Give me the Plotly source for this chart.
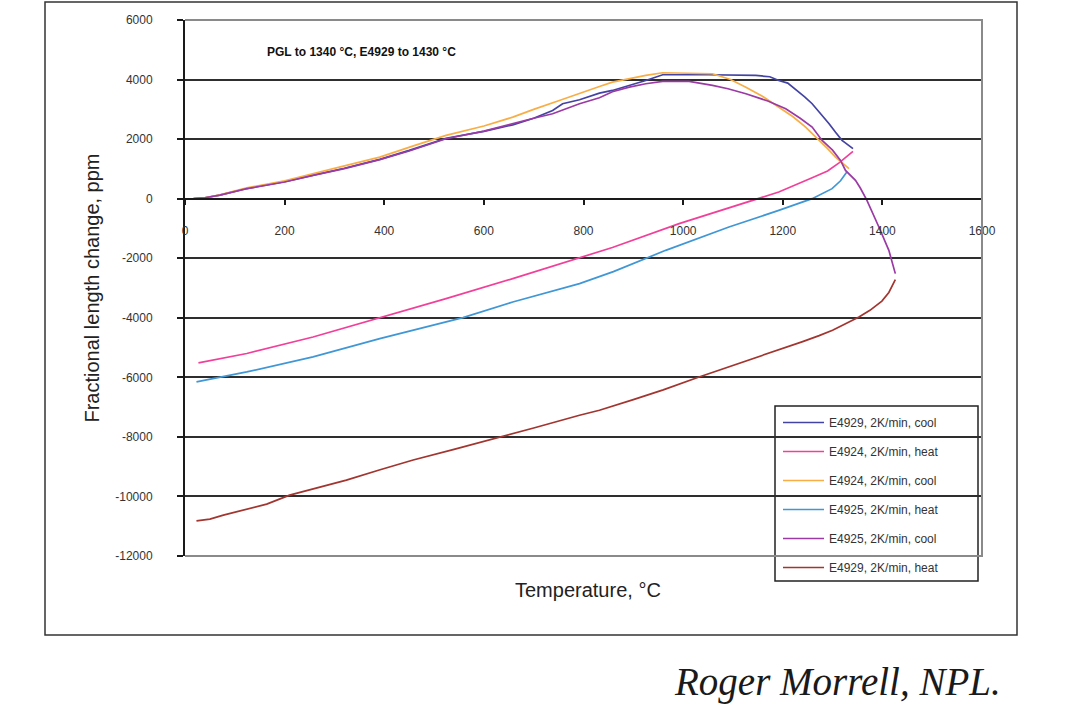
import plotly.graph_objects as go

# Dilatometer runs: temperature (°C) vs fractional length change (ppm)
e4929_cool_t = [1341, 1330, 1319, 1306, 1293, 1276, 1259, 1244, 1229, 1210, 1192, 1174, 1146, 1100,
                1050, 1012, 959, 925, 892, 858, 832, 792, 758, 738, 700, 658, 600, 524, 450, 391,
                320, 257, 200, 124, 70, 40, 17]
e4929_cool_v = [1680, 1830, 1957, 2230, 2517, 2850, 3188, 3420, 3634, 3880, 3970, 4094, 4138, 4161,
                4161, 4161, 4161, 3970, 3800, 3634, 3544, 3322, 3188, 2960, 2700, 2480, 2260, 2030,
                1620, 1320, 1020, 790, 570, 340, 120, 30, 0]

e4924_heat_t = [27, 124, 257, 397, 524, 658, 792, 858, 992, 1080, 1159, 1192, 1259, 1290, 1313, 1341]
e4924_heat_v = [-5516, -5201, -4644, -3973, -3356, -2685, -1980, -1640, -839, -380, 54, 222, 700,
                930, 1200, 1590]

e4924_cool_t = [1333, 1320, 1306, 1290, 1273, 1260, 1246, 1220, 1192, 1160, 1126, 1095, 1059, 1010,
                959, 925, 892, 858, 832, 792, 750, 700, 658, 600, 524, 460, 391, 320, 257, 200,
                124, 70, 40, 20]
e4924_cool_v = [1007, 1200, 1396, 1680, 1956, 2180, 2403, 2760, 3074, 3430, 3745, 4000, 4195, 4220,
                4228, 4138, 4030, 3913, 3768, 3544, 3290, 3000, 2738, 2440, 2124, 1780, 1396, 1100,
                839, 600, 360, 130, 30, 0]

e4925_heat_t = [23, 124, 257, 391, 558, 658, 792, 860, 965, 1092, 1192, 1246, 1259, 1299, 1316, 1329]
e4925_heat_v = [-6154, -5819, -5315, -4698, -3993, -3470, -2852, -2450, -1735, -953, -393, -57, 0,
                336, 600, 900]

e4925_cool_t = [1426, 1413, 1393, 1380, 1369, 1356, 1346, 1326, 1316, 1300, 1279, 1259, 1235, 1206,
                1170, 1126, 1090, 1059, 1012, 985, 959, 925, 892, 858, 832, 792, 738, 700, 658,
                600, 524, 450, 391, 320, 257, 200, 124, 70, 40, 17]
e4925_cool_v = [-2517, -1735, -952, -450, -57, 350, 614, 950, 1285, 1630, 1957, 2403, 2700, 3020,
                3280, 3523, 3690, 3802, 3936, 3940, 3936, 3860, 3745, 3590, 3389, 3188, 2850, 2700,
                2517, 2270, 2013, 1600, 1309, 1010, 782, 560, 336, 120, 30, 0]

e4929_heat_t = [23, 50, 77, 120, 164, 210, 260, 324, 390, 458, 540, 631, 700, 792, 832, 900, 960,
                1032, 1100, 1192, 1240, 1273, 1300, 1326, 1353, 1375, 1399, 1413, 1426]
e4929_heat_v = [-10819, -10760, -10628, -10450, -10258, -9956, -9730, -9453, -9110, -8775, -8420,
                -8020, -7700, -7272, -7104, -6750, -6420, -5987, -5600, -5090, -4800, -4600, -4420,
                -4200, -3973, -3750, -3440, -3150, -2718]

series = [
    ("E4929, 2K/min, cool", e4929_cool_t, e4929_cool_v, "#4343a3"),
    ("E4924, 2K/min, heat", e4924_heat_t, e4924_heat_v, "#f2409a"),
    ("E4924, 2K/min, cool", e4924_cool_t, e4924_cool_v, "#f8ae45"),
    ("E4925, 2K/min, heat", e4925_heat_t, e4925_heat_v, "#3f97d6"),
    ("E4925, 2K/min, cool", e4925_cool_t, e4925_cool_v, "#9b3aa5"),
    ("E4929, 2K/min, heat", e4929_heat_t, e4929_heat_v, "#a2352f"),
]

x_ticks = [0, 200, 400, 600, 800, 1000, 1200, 1400, 1600]
x_labels = [str(v) for v in x_ticks]
y_ticks = [-12000, -10000, -8000, -6000, -4000, -2000, 0, 2000, 4000, 6000]
y_labels = [str(v) for v in y_ticks]

FONT = "Liberation Sans, Arial, sans-serif"

fig = go.Figure()
for i, (name, t, v, col) in enumerate(series):
    fig.add_trace(go.Scatter(
        x=t, y=v, mode="lines", name=name, legendgroup=f"g{i}",
        line=dict(color=col, width=1.7),
    ))

# paper-coordinate helpers (plot area spans 797 x 536 px)
L, R, T, B = 185, 89, 20, 152
W, H = 1071, 708
pw, ph = W - L - R, H - T - B


def px(xp):
    return (xp - L) / pw


def py(yp):
    return (H - B - yp) / ph


fig.update_layout(
    width=W, height=H,
    margin=dict(l=L, r=R, t=T, b=B),
    paper_bgcolor="white", plot_bgcolor="white",
    font=dict(family=FONT, size=12, color="#333333"),
    showlegend=True,
    legend=dict(
        x=px(778), y=py(408), xanchor="left", yanchor="top",
        bgcolor="rgba(0,0,0,0)", borderwidth=0,
        font=dict(family=FONT, size=12, color="#333333"),
        tracegroupgap=10, itemwidth=41,
    ),
    xaxis=dict(
        range=[0, 1600], tickvals=x_ticks, ticktext=x_labels,
        anchor="free", position=12 / 18,
        showline=True, linecolor="#1a1a1a", linewidth=2,
        ticks="outside", ticklen=5, tickwidth=1.5, tickcolor="#1a1a1a",
        ticklabelstandoff=16,
        showgrid=False, zeroline=False,
        tickfont=dict(family=FONT, size=12, color="#333333"),
    ),
    yaxis=dict(
        range=[-12000, 6000], tickvals=y_ticks, ticktext=y_labels,
        showline=True, linecolor="#1a1a1a", linewidth=2,
        ticks="outside", ticklen=6, tickwidth=1.5, tickcolor="#1a1a1a",
        ticklabelstandoff=22,
        showgrid=True, gridcolor="#2e2e2e", gridwidth=2,
        zeroline=False,
        tickfont=dict(family=FONT, size=12, color="#333333"),
        title=dict(text="Fractional length change, ppm",
                   font=dict(family=FONT, size=20, color="#222222"), standoff=10),
        automargin=False,
    ),
)

shapes = [
    # plot-area border (top, right, bottom) in grey
    dict(type="path", xref="paper", yref="paper", path="M 0,1 L 1,1 L 1,0 L 0,0",
         line=dict(color="#8a8a8a", width=2), layer="above"),
    # legend box
    dict(type="rect", xref="paper", yref="paper",
         x0=px(775), x1=px(978), y0=py(406), y1=py(581),
         line=dict(color="#222222", width=1.5), fillcolor="white", layer="between"),
    # outer frame round the chart
    dict(type="rect", xref="paper", yref="paper",
         x0=px(45), x1=px(1017), y0=py(635), y1=py(2),
         line=dict(color="#333333", width=1.5), fillcolor="rgba(0,0,0,0)", layer="above"),
]
fig.update_layout(shapes=shapes)

fig.add_annotation(
    text="<b>PGL to 1340 °C, E4929 to 1430 °C</b>",
    xref="paper", yref="paper", x=px(265), y=py(52), xanchor="left", yanchor="middle",
    showarrow=False, font=dict(family=FONT, size=12, color="#111111"),
)
fig.add_annotation(
    text="Temperature, °C",
    xref="paper", yref="paper", x=px(588), y=py(590), xanchor="center", yanchor="middle",
    showarrow=False, font=dict(family=FONT, size=20, color="#222222"),
)
fig.add_annotation(
    text="<i>Roger Morrell, NPL.</i>",
    xref="paper", yref="paper", x=px(1003), y=py(682), xanchor="right", yanchor="middle",
    showarrow=False, font=dict(family="Liberation Serif, Times New Roman, serif", size=39,
                               color="#1a1a1a"),
)

fig.write_html("out.html")
